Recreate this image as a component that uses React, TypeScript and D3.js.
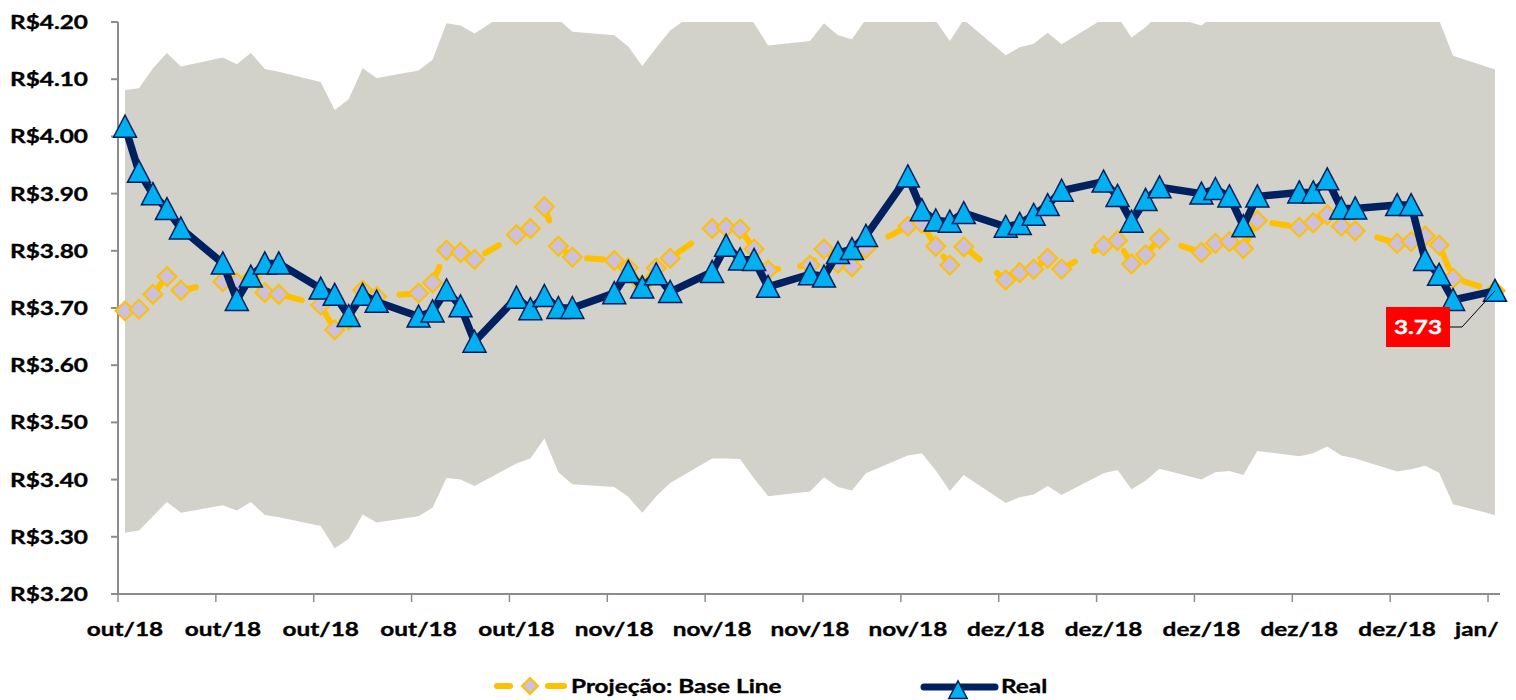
import React from "react";
import * as d3 from "d3";

// ---- data (one entry per calendar day, weekends empty) ----
const tickLabels = ["out/18","out/18","out/18","out/18","out/18","nov/18","nov/18","nov/18","nov/18","dez/18","dez/18","dez/18","dez/18","dez/18","jan/"];

const realValues: (number | null)[] = [
  4.017,3.938,3.899,3.873,3.839,null,null,
  3.778,3.714,3.755,3.778,3.778,null,null,
  3.734,3.723,3.686,3.723,3.711,null,null,
  3.685,3.694,3.731,3.703,3.641,null,null,
  3.718,3.698,3.721,3.700,3.700,null,null,
  3.726,3.763,3.736,3.759,3.728,null,null,
  3.763,3.809,3.785,3.784,3.737,null,null,
  3.759,3.755,3.796,3.803,3.826,null,null,
  3.930,3.871,3.853,3.851,3.866,null,null,
  3.842,3.847,3.863,3.880,3.905,null,null,
  3.921,3.896,3.851,3.889,3.911,null,null,
  3.900,3.908,3.895,3.843,3.895,null,null,
  3.902,3.902,3.925,3.874,3.874,null,null,
  3.880,3.880,3.784,3.758,3.714,null,null,
  3.730,
];

const projectionValues: (number | null)[] = [
  3.695,3.698,3.724,3.755,3.731,null,null,
  3.746,3.744,3.752,3.727,3.724,null,null,
  3.705,3.662,3.679,3.731,3.720,null,null,
  3.726,3.744,3.801,3.797,3.785,null,null,
  3.828,3.839,3.877,3.808,3.789,null,null,
  3.783,3.770,3.740,3.770,3.787,null,null,
  3.839,3.841,3.838,3.803,3.766,null,null,
  3.775,3.803,3.778,3.772,3.804,null,null,
  3.843,3.848,3.808,3.775,3.807,null,null,
  3.749,3.762,3.768,3.787,3.768,null,null,
  3.809,3.818,3.777,3.793,3.821,null,null,
  3.797,3.813,3.816,3.804,3.853,null,null,
  3.841,3.849,3.863,3.843,3.835,null,null,
  3.813,3.816,3.826,3.810,3.752,null,null,
  3.730,
];

const bandUpper: (number | null)[] = [
  4.081,4.084,4.119,4.146,4.122,null,null,
  4.138,4.126,4.146,4.118,4.113,null,null,
  4.095,4.046,4.065,4.119,4.102,null,null,
  4.115,4.134,4.198,4.194,4.180,null,null,
  4.227,4.235,4.240,4.205,4.183,null,null,
  4.177,4.157,4.123,4.155,4.185,null,null,
  4.239,4.245,4.225,4.198,4.159,null,null,
  4.167,4.198,4.177,4.170,4.205,null,null,
  4.240,4.225,4.202,4.167,4.204,null,null,
  4.142,4.156,4.162,4.181,4.161,null,null,
  4.206,4.210,4.173,4.191,4.215,null,null,
  4.194,4.213,4.230,4.225,4.250,null,null,
  4.245,4.250,4.262,4.248,4.240,null,null,
  4.245,4.250,4.240,4.203,4.141,null,null,
  4.117,
];

const bandLower: (number | null)[] = [
  3.307,3.311,3.336,3.361,3.342,null,null,
  3.355,3.346,3.361,3.338,3.334,null,null,
  3.319,3.280,3.296,3.339,3.325,null,null,
  3.336,3.351,3.403,3.400,3.389,null,null,
  3.428,3.437,3.472,3.413,3.392,null,null,
  3.387,3.370,3.342,3.371,3.394,null,null,
  3.437,3.437,3.436,3.402,3.371,null,null,
  3.379,3.404,3.387,3.381,3.411,null,null,
  3.442,3.446,3.416,3.380,3.408,null,null,
  3.359,3.369,3.374,3.389,3.373,null,null,
  3.411,3.417,3.383,3.398,3.419,null,null,
  3.400,3.413,3.415,3.408,3.450,null,null,
  3.441,3.446,3.458,3.442,3.437,null,null,
  3.414,3.418,3.424,3.412,3.357,null,null,
  3.338,
];

const yTicks = [3.2, 3.3, 3.4, 3.5, 3.6, 3.7, 3.8, 3.9, 4.0, 4.1, 4.2];
const lastLabel = "3.73";
const legendNames = ["Projeção: Base Line", "Real"];

// ---- styles ----
const W = 1516, H = 700;
const L = 118, R = 1502, T = 22, B = 594;
const FONT = "Lato, 'Open Sans', sans-serif";
const SX = 1.25;
const NAVY = "#002060";
const CYAN = "#00B0F0";
const GOLD = "#FFC000";
const LAV = "#CCC0DA";
const BAND = "#D2D2CB";
const AXIS = "#8C8C8C";

function SText(props: { x: number; y: number; anchor?: string; size?: number; fill?: string; children: React.ReactNode }) {
  const { x, y, anchor = "start", size = 19.5, fill = "#000", children } = props;
  return (
    <text transform={`translate(${x},${y}) scale(${SX},1)`} textAnchor={anchor} fontSize={size}
      fontWeight="bold" fontFamily={FONT} fill={fill} stroke={fill} strokeWidth={0.35}>{children}</text>
  );
}

const triPath = (cx: number, cy: number, s = 1) =>
  `M${cx},${cy - 11.5 * s}L${cx + 11.5 * s},${cy + 10.5 * s}L${cx - 11.5 * s},${cy + 10.5 * s}Z`;
const diaPath = (cx: number, cy: number, r = 9.5) =>
  `M${cx},${cy - r}L${cx + r},${cy}L${cx},${cy + r}L${cx - r},${cy}Z`;

export default function App() {
  const N = realValues.length;
  const x = d3.scaleBand<number>().domain(d3.range(N)).range([L, R]).paddingInner(0).paddingOuter(0);
  const cx = (i: number) => (x(i) as number) + x.bandwidth() / 2;
  const y = d3.scaleLinear().domain([3.2, 4.2]).range([B, T]);

  const idx = d3.range(N);
  const bandIdx = idx.filter((i) => bandUpper[i] != null && bandLower[i] != null);
  const realIdx = idx.filter((i) => realValues[i] != null);
  const projIdx = idx.filter((i) => projectionValues[i] != null);

  const area = d3.area<number>()
    .x((i) => cx(i))
    .y0((i) => y(bandLower[i] as number))
    .y1((i) => y(bandUpper[i] as number));
  const realLine = d3.line<number>().x((i) => cx(i)).y((i) => y(realValues[i] as number));
  const projLine = d3.line<number>().x((i) => cx(i)).y((i) => y(projectionValues[i] as number));

  const tickIdx = tickLabels.map((_, k) => k * 7);
  const lastI = N - 1;
  const lx = cx(lastI), ly = y(realValues[lastI] as number);

  return (
    <svg width={W} height={H} style={{ position: "absolute", left: 0, top: 0, background: "#fff" }}>
      <defs>
        <clipPath id="plot"><rect x={L} y={T} width={R - L} height={B - T} /></clipPath>
      </defs>
      <path d={area(bandIdx) || ""} fill={BAND} clipPath="url(#plot)" />

      {/* axes */}
      <line x1={L} x2={L} y1={T} y2={B} stroke={AXIS} strokeWidth={2} />
      <line x1={L - 7} x2={1500} y1={B} y2={B} stroke={AXIS} strokeWidth={2} />
      {yTicks.map((v) => (
        <g key={v}>
          <line x1={L - 7} x2={L} y1={y(v)} y2={y(v)} stroke={AXIS} strokeWidth={2} />
          <SText x={88} y={y(v) + 7} anchor="end">{"R$" + v.toFixed(2)}</SText>
        </g>
      ))}
      {tickIdx.map((i) => (
        <line key={i} x1={x(i) as number} x2={x(i) as number} y1={B} y2={B + 8} stroke={AXIS} strokeWidth={1.5} />
      ))}
      {tickIdx.map((i, k) => (
        k === tickIdx.length - 1
          ? <SText key={i} x={1455} y={636} anchor="start">{tickLabels[k]}</SText>
          : <SText key={i} x={cx(i)} y={636} anchor="middle">{tickLabels[k]}</SText>
      ))}

      {/* projection */}
      <path d={projLine(projIdx) || ""} fill="none" stroke={GOLD} strokeWidth={6}
        strokeDasharray="16 22" strokeLinecap="round" strokeLinejoin="round" />
      {projIdx.map((i) => (
        <path key={i} d={diaPath(cx(i), y(projectionValues[i] as number))} fill={LAV} stroke={GOLD} strokeWidth={2} />
      ))}

      {/* real */}
      <path d={realLine(realIdx) || ""} fill="none" stroke={NAVY} strokeWidth={7.5} strokeLinejoin="round" />
      {realIdx.map((i) => (
        <path key={i} d={triPath(cx(i), y(realValues[i] as number))} fill={CYAN} stroke={NAVY} strokeWidth={1.5} strokeLinejoin="miter" />
      ))}

      {/* last value label */}
      <polyline points={`1450,327 1462,327 ${lx},${ly}`} fill="none" stroke="#000" strokeWidth={1} />
      <rect x={1386} y={307} width={64} height={40} fill="#FF0000" />
      <SText x={1418} y={334} anchor="middle" fill="#fff" size={19.5}>{lastLabel}</SText>

      {/* legend */}
      <line x1={497} x2={510} y1={686} y2={686} stroke={GOLD} strokeWidth={6} strokeLinecap="round" />
      <line x1={548} x2={564} y1={686} y2={686} stroke={GOLD} strokeWidth={6} strokeLinecap="round" />
      <path d={diaPath(530, 686, 8)} fill={LAV} stroke={GOLD} strokeWidth={2} />
      <SText x={571} y={693}>{legendNames[0]}</SText>

      <line x1={924} x2={995} y1={687} y2={687} stroke={NAVY} strokeWidth={7} strokeLinecap="round" />
      <path d={triPath(958, 690, 0.8)} fill={CYAN} stroke={NAVY} strokeWidth={1.5} />
      <SText x={1001} y={693}>{legendNames[1]}</SText>
    </svg>
  );
}
